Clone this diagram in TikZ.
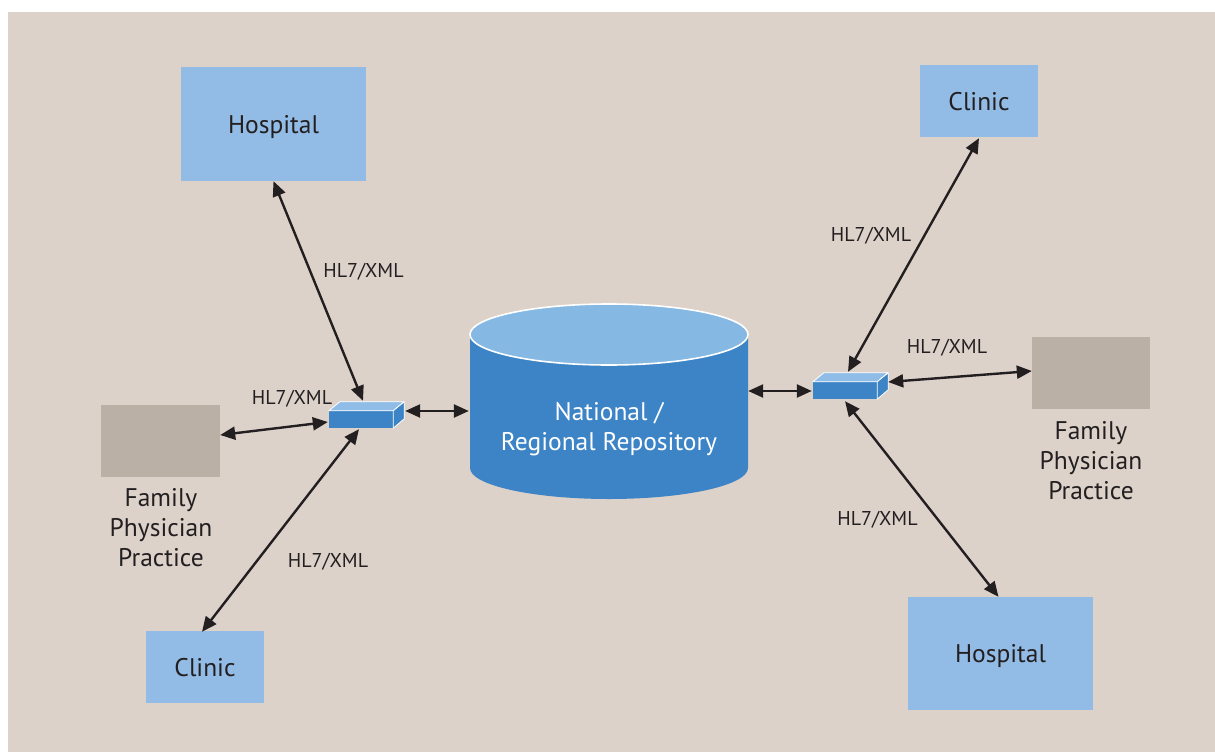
\documentclass[tikz,border=0pt]{standalone}
\usepackage{fontspec}
\setmainfont{PT Sans}
\usetikzlibrary{arrows.meta,calc}
\definecolor{bgsand}{HTML}{DCD2CA}
\definecolor{siteblue}{HTML}{92BCE5}
\definecolor{sitegray}{HTML}{BAB0A6}
\definecolor{repoblue}{HTML}{3D84C6}
\definecolor{repotop}{HTML}{85B8E3}
\definecolor{hubtop}{HTML}{8FBDE8}
\definecolor{ink}{HTML}{231F20}
\tikzset{
  site/.style={fill=siteblue, draw=none, inner sep=0pt, text=ink, text depth=-2pt, font=\fontsize{25.5}{30}\selectfont},
  practice/.style={fill=sitegray, draw=none, inner sep=0pt},
  caption/.style={text=ink, align=center, inner sep=0pt, font=\fontsize{25.5}{30}\selectfont},
  proto/.style={text=ink, inner sep=0pt, font=\fontsize{20}{22}\selectfont},
  hub/.style={fill=repoblue, draw=none, inner sep=0pt, minimum width=64pt, minimum height=17pt},
  hubface/.style={draw=white, line width=0.8pt, line join=round},
  link/.style={draw=ink, line width=2.4pt, {Triangle[length=15pt,width=13pt]}-{Triangle[length=15pt,width=13pt]}}
}
\begin{document}
\begin{tikzpicture}[x=1pt,y=-1pt]
\useasboundingbox (0,0) rectangle (1215,752);
\fill[white] (0,0) rectangle (1215,752);
\fill[bgsand] (8,12) rectangle (1215,752);

% sites
\node[site, minimum width=185pt, minimum height=114pt] (hospL) at (273.5,124) {Hospital};
\node[site, minimum width=118pt, minimum height=72pt] (clinR) at (979,101) {Clinic};
\node[practice, minimum width=119pt, minimum height=72pt] (famL) at (160.5,441) {};
\node[practice, minimum width=118pt, minimum height=72pt] (famR) at (1091,373) {};
\node[site, minimum width=118pt, minimum height=72pt] (clinL) at (205,667) {Clinic};
\node[site, minimum width=185pt, minimum height=113pt] (hospR) at (1000.5,653.5) {Hospital};
\node[caption] (famLtxt) at (161,527.5) {Family\\Physician\\Practice};
\node[caption] (famRtxt) at (1091,460.5) {Family\\Physician\\Practice};

% repository cylinder
\fill[repoblue] (470,334.5) -- (470,468) arc[start angle=180, end angle=360, x radius=139pt, y radius=31pt] -- (748,334.5) -- cycle;
\draw[white, line width=1.6pt, fill=repotop] (609,334.5) ellipse [x radius=139pt, y radius=30.5pt];
\node[minimum width=278pt, minimum height=120pt, inner sep=0pt] (repo) at (609,401) {};
\node[text=white, align=center, inner sep=0pt, font=\fontsize{25.5}{30}\selectfont] (repotxt) at (609,429.5) {National /\\Regional Repository};

% regional hubs
\node[hub] (sbL) at (361,419.5) {};
\node[hub] (sbR) at (845,390.5) {};
\foreach \h in {sbL,sbR}{
  \filldraw[hubface, fill=hubtop] (\h.north west) -- ++(11,-9) -- ++(64,0) -- (\h.north east) -- cycle;
  \filldraw[hubface, fill=repoblue] (\h.north east) -- ++(11,-9) -- ++(0,17) -- (\h.south east) -- cycle;
}

% links
\draw[link] (hospL.south) -- ($(sbL.north)+(2,-10)$);
\draw[link] ($(famL.east)+(0,-6)$) -- ($(sbL.west)+(-1,2.5)$);
\draw[link] ($(clinL.north)+(-3,1)$) -- ($(sbL.south)+(-2,1)$);
\draw[link] ($(sbL.east)+(12,-8.5)$) -- ($(repo.west)+(-1,10)$);
\draw[link] ($(repo.east)+(0,-10)$) -- ($(sbR.west)+(-1,0.5)$);
\draw[link] ($(clinR.south)+(0,1)$) -- ($(sbR.north)+(3,-10)$);
\draw[link] ($(famR.west)+(0,-2)$) -- ($(sbR.east)+(11,-8.5)$);
\draw[link] ($(hospR.north)+(-2,0)$) -- ($(sbR.south)+(0,2)$);

% protocol labels
\node[proto] (p1) at (363.5,271.5) {HL7/XML};
\node[proto] (p2) at (292,398.5) {HL7/XML};
\node[proto] (p3) at (328,561.5) {HL7/XML};
\node[proto] (p4) at (871,235.5) {HL7/XML};
\node[proto] (p5) at (947,347.5) {HL7/XML};
\node[proto] (p6) at (877.5,519.5) {HL7/XML};
\end{tikzpicture}
\end{document}
